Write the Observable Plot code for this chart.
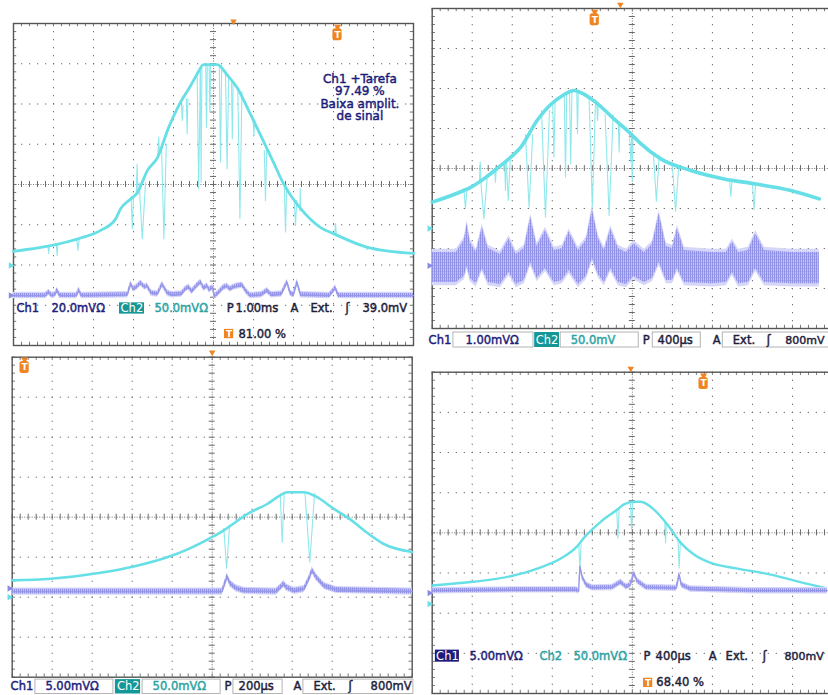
<!DOCTYPE html>
<html><head><meta charset="utf-8">
<script src="https://cdn.jsdelivr.net/npm/d3@7"></script>
<script src="https://cdn.jsdelivr.net/npm/@observablehq/plot@0.6"></script>
<style>
html,body{margin:0;padding:0;background:#fff;}
#wrap{position:relative;width:828px;height:695px;overflow:hidden;background:#fff;}
#wrap svg{position:absolute;max-width:none !important;}
</style></head><body><div id="wrap"></div>
<script>
// ---------- DATA (x, y in screen divisions; x 0..10, y -4..4) ----------
// Panel 1 (top-left)
const p1Envelope = [[0,-1.66],[0.93,-1.52],[1.68,-1.33],[2.18,-1.14],[2.55,-0.86],[2.68,-0.6],[2.93,-0.36],[3.1,-0.2],[3.35,0.35],[3.6,0.67],[3.88,1.42],[4.13,1.96],[4.43,2.46],[4.6,2.76],[4.75,2.98],[5.1,2.98],[5.35,2.71],[5.6,2.39],[5.85,1.9],[6.18,1.22],[6.5,0.55],[6.75,0.02],[7.18,-0.6],[7.68,-1.07],[8.0,-1.22],[8.85,-1.56],[10,-1.71]];
// spikes: [x, base, tip, half-width]
const p1Spikes = [[0.88,-1.52,-1.71,0.02],[1.09,-1.47,-1.76,0.02],[1.61,-1.35,-1.64,0.03],[2.97,-0.3,-1.1,0.03],[3.09,-0.25,0.51,0.02],[3.22,0.05,-1.35,0.08],[3.63,0.75,1.18,0.02],[3.76,1.0,-1.35,0.06],[4.22,1.96,1.59,0.02],[4.34,2.13,1.26,0.02],[4.63,2.8,-0.11,0.04],[4.69,2.9,0.06,0.02],[4.825,2.98,1.42,0.02],[4.91,2.98,1.8,0.02],[5.175,2.95,0.56,0.03],[5.34,2.73,0.39,0.04],[5.47,2.55,1.14,0.02],[5.66,2.3,-0.85,0.05],[6.01,1.6,1.22,0.02],[6.3,0.85,-0.4,0.03],[6.8,-0.05,-1.18,0.03],[7.05,-0.4,-1.02,0.03],[7.17,-0.65,-0.1,0.01],[8.05,-1.23,-0.97,0.02],[8.84,-1.55,-1.62,0.02]];
const p1Ch2 = [[0,-2.76],[0.8,-2.76],[0.88,-2.68],[0.96,-2.76],[1.04,-2.74],[1.09,-2.63],[1.16,-2.76],[1.58,-2.76],[1.63,-2.62],[1.7,-2.76],[2.85,-2.74],[2.93,-2.47],[3.0,-2.6],[3.08,-2.55],[3.18,-2.45],[3.28,-2.55],[3.34,-2.52],[3.45,-2.7],[3.6,-2.72],[3.72,-2.48],[3.85,-2.7],[3.97,-2.74],[4.2,-2.72],[4.3,-2.6],[4.38,-2.55],[4.46,-2.66],[4.6,-2.5],[4.68,-2.43],[4.76,-2.58],[4.84,-2.52],[4.9,-2.62],[4.98,-2.55],[5.02,-2.78],[5.12,-2.7],[5.25,-2.56],[5.34,-2.53],[5.42,-2.6],[5.5,-2.55],[5.6,-2.52],[5.72,-2.5],[5.82,-2.66],[5.92,-2.76],[6.2,-2.74],[6.34,-2.64],[6.45,-2.74],[6.7,-2.72],[6.84,-2.43],[6.92,-2.7],[7.0,-2.74],[7.09,-2.43],[7.18,-2.74],[7.9,-2.76],[8.05,-2.57],[8.12,-2.76],[10,-2.76]];
const p1Noise = 0.05;
const p1Note = ["Ch1 +Tarefa","97.49 %","Baixa amplit.","de sinal"];

// Panel 2 (top-right)
const p2Envelope = [[0,-0.84],[0.79,-0.55],[0.96,-0.47],[1.29,-0.26],[1.62,0.0],[1.96,0.28],[2.21,0.53],[2.62,1.2],[2.96,1.6],[3.25,1.82],[3.54,1.95],[3.75,1.88],[4.08,1.66],[4.54,1.24],[4.96,0.87],[5.21,0.62],[5.71,0.24],[6.46,-0.05],[7.29,-0.26],[8.04,-0.38],[8.96,-0.55],[9.67,-0.76]];
const p2Spikes = [[0.83,-0.5,-1.0,0.04],[1.2,-0.35,0.16,0.02],[1.29,-0.26,-1.26,0.08],[1.58,-0.03,-0.34,0.02],[1.83,0.17,-0.55,0.02],[1.9,0.22,-0.8,0.05],[2.42,0.85,-0.97,0.09],[2.83,1.45,-1.22,0.1],[3.04,1.65,0.28,0.03],[3.33,1.85,-0.22,0.03],[3.46,1.92,0.12,0.03],[3.63,1.93,0.87,0.02],[4.0,1.72,-0.97,0.08],[4.13,1.62,1.2,0.02],[4.42,1.35,-1.18,0.1],[4.67,1.12,0.41,0.02],[4.96,0.87,0.16,0.03],[5.0,0.84,-0.3,0.02],[5.6,0.32,-0.82,0.07],[6.08,0.08,-1.07,0.08],[7.46,-0.29,-0.7,0.03],[8.04,-0.38,-1.03,0.04]];
// [x, upper edge, lower edge] of the noisy band
const p2Ch2 = [[0,-2.1,-2.85],[0.6,-2.1,-2.85],[0.8,-1.8,-2.7],[0.875,-1.38,-2.45],[0.95,-1.85,-2.75],[1.1,-2.1,-2.88],[1.25,-1.47,-2.5],[1.4,-2.0,-2.85],[1.7,-2.15,-2.9],[1.92,-1.76,-2.6],[2.1,-2.15,-2.9],[2.3,-2.0,-2.8],[2.46,-1.22,-2.35],[2.62,-1.95,-2.75],[2.83,-1.55,-2.5],[3.05,-2.05,-2.85],[3.25,-2.0,-2.8],[3.42,-1.59,-2.55],[3.65,-2.05,-2.9],[3.85,-1.8,-2.7],[4.0,-1.01,-2.25],[4.15,-1.75,-2.65],[4.3,-2.05,-2.85],[4.46,-1.51,-2.5],[4.65,-2.0,-2.85],[4.85,-2.1,-2.9],[5.04,-1.88,-2.7],[5.3,-2.1,-2.85],[5.5,-1.9,-2.75],[5.67,-1.13,-2.35],[5.85,-1.95,-2.8],[6.0,-2.0,-2.8],[6.125,-1.5,-2.5],[6.3,-2.05,-2.85],[7.0,-2.1,-2.88],[7.35,-2.1,-2.85],[7.5,-1.84,-2.6],[7.65,-2.1,-2.88],[7.9,-2.05,-2.85],[8.08,-1.63,-2.5],[8.3,-2.05,-2.85],[9.0,-2.1,-2.88],[9.67,-2.1,-2.88]];

// Panel 3 (bottom-left)
const p3Envelope = [[0,-1.58],[0.96,-1.54],[2.21,-1.39],[3.04,-1.23],[3.875,-1.0],[4.375,-0.81],[5.04,-0.475],[5.29,-0.33],[5.46,-0.21],[5.96,0.125],[6.375,0.33],[6.69,0.54],[6.875,0.625],[7.29,0.625],[7.58,0.525],[8.04,0.21],[8.46,-0.06],[8.875,-0.39],[9.29,-0.67],[10,-0.87]];
const p3Spikes = [[5.36,-0.28,-1.275,0.07],[6.75,0.58,-0.625,0.05],[7.44,0.6,-1.125,0.12]];
const p3Ch2 = [[0,-1.86],[5.25,-1.86],[5.33,-1.62],[5.375,-1.48],[5.45,-1.66],[5.6,-1.78],[5.8,-1.84],[6.6,-1.86],[6.72,-1.75],[6.79,-1.67],[6.86,-1.76],[7.05,-1.84],[7.3,-1.8],[7.42,-1.55],[7.5,-1.33],[7.6,-1.5],[7.8,-1.72],[8.1,-1.82],[10,-1.86]];
const p3Noise = 0.06;

// Panel 4 (bottom-right)
const p4Envelope = [[0,-1.31],[0.96,-1.225],[1.96,-1.08],[2.625,-0.89],[3.21,-0.64],[3.625,-0.33],[3.79,-0.125],[4.21,0.275],[4.625,0.58],[4.79,0.71],[5.04,0.775],[5.21,0.775],[5.54,0.58],[5.875,0.21],[6.21,-0.25],[6.54,-0.54],[6.96,-0.75],[7.625,-0.89],[8.46,-1.04],[9.29,-1.25],[9.83,-1.375]];
const p4Spikes = [[3.69,-0.29,-0.875,0.03],[4.64,0.58,-0.125,0.03],[4.98,0.77,0.1,0.03],[5.83,0.25,-0.25,0.02],[6.17,-0.2,-0.875,0.03]];
const p4Ch2 = [[0,-1.44],[2.0,-1.42],[3.6,-1.42],[3.66,-1.45],[3.69,-0.83],[3.75,-1.1],[3.85,-1.3],[4.0,-1.37],[4.5,-1.36],[4.71,-1.23],[4.85,-1.35],[4.95,-1.3],[5.04,-1.0],[5.12,-1.2],[5.35,-1.36],[6.1,-1.38],[6.17,-1.04],[6.23,-1.3],[6.45,-1.4],[8,-1.44],[9.87,-1.44]];
const p4Noise = 0.05;

// status-line texts
const ch1Scale  = ["20.0mVΩ","1.00mVΩ","5.00mVΩ","5.00mVΩ"];
const ch2Scale  = ["50.0mVΩ","50.0mV","50.0mVΩ","50.0mVΩ"];
const timeBase  = ["1.00ms","400µs","200µs","400µs"];
const trigLevel = ["39.0mV","800mV","800mV","800mV"];
const trigPos   = ["81.00 %", null, null, "68.40 %"];

// ---------- STYLE ----------
const CYAN="#66dfe6", CYAN_T="#90e8ed", NAVY="#1c1c7a", TEAL="#2aa3a3", TEALBOX="#169797", DARK="#1e1e3c", ORANGE="#ef8420", BLUE="#9898ea", BANDKEY="#a5a5ef", FRINGE="#d6d6f8";

function gridMarks(){
  const mx = d3.range(0, 10.0001, 0.2), my = d3.range(-4, 4.0001, 0.2);
  return [
    Plot.ruleX([1,2,3,4,6,7,8,9], {stroke:"#6e6e6e", strokeDasharray:"1.3,6.7"}),
    Plot.ruleY([-3,-2,-1,1,2,3], {stroke:"#6e6e6e", strokeDasharray:"1.3,6.7"}),
    Plot.ruleX([5], {stroke:"#777", strokeDasharray:"1,1.5"}),
    Plot.ruleY([0], {stroke:"#777", strokeDasharray:"1,1.5"}),
    Plot.ruleX(mx, {y1:-0.075, y2:0.075, stroke:"#6a6a6a"}),
    Plot.ruleY(my, {x1:4.925, x2:5.075, stroke:"#6a6a6a"}),
    Plot.ruleX(mx, {y1:3.92, y2:4, stroke:"#777"}),
    Plot.ruleX(mx, {y1:-4, y2:-3.92, stroke:"#777"}),
    Plot.ruleY(my, {x1:0, x2:0.08, stroke:"#777"}),
    Plot.ruleY(my, {x1:9.92, x2:10, stroke:"#777"}),
    Plot.frame({stroke:"#555", strokeWidth:1.4})
  ];
}
function spikeRows(sp){ return sp.flatMap(([x,b,t,w],i)=>[{x:x-w,y:b,i},{x:x,y:t,i},{x:x+w,y:b,i}]); }
function traceMarks(env, spikes, envW){
  return [
    Plot.line(spikeRows(spikes), {x:"x", y:"y", z:"i", stroke:CYAN_T, strokeWidth:1.1}),
    Plot.line(env, {x:d=>d[0], y:d=>d[1], stroke:CYAN, strokeWidth:envW, curve:"monotone-x"})
  ];
}
function bandMarks(rows, withLine, fringe){
  const m = [];
  if (fringe) m.push(Plot.areaY(rows, {x:"x", y1:d=>d.lo-fringe, y2:d=>d.hi+fringe, fill:FRINGE}));
  m.push(Plot.areaY(rows, {x:"x", y1:"lo", y2:"hi", fill:BANDKEY}));
  if (withLine) m.push(Plot.line(rows, {x:"x", y:"y", stroke:BLUE, strokeWidth:1.3}));
  return m;
}
function txt(s, x, y, fill, o={}){
  return Plot.text([s], {x, y, text:d=>d, fill, textAnchor:"start", fontSize:11.5, stroke:fill, strokeWidth:0.45, ...o});
}
function box(x1, x2, y1, y2, fill, stroke){
  return Plot.rect([0], {x1, x2, y1, y2, fill, stroke: stroke || "none", strokeWidth:1});
}
function tMarker(x, y){
  return [
    Plot.dot([0], {x, y:y+0.2, symbol:"triangle", rotate:180, r:2.6, fill:ORANGE}),
    Plot.rect([0], {x1:x-0.115, x2:x+0.115, y1:y-0.15, y2:y+0.15, rx:2.5, fill:ORANGE}),
    Plot.text(["T"], {x, y, text:d=>d, fill:"white", fontSize:9, fontWeight:"bold"})
  ];
}
function tBox(x, y){
  return [
    Plot.rect([0], {x1:x, x2:x+0.23, y1:y-0.115, y2:y+0.115, fill:ORANGE}),
    Plot.text(["T"], {x:x+0.115, y, text:d=>d, fill:"white", fontSize:9, fontWeight:"bold"})
  ];
}
function topMark(x, y){ return Plot.dot([0], {x, y, symbol:"triangle", rotate:180, r:2.4, fill:ORANGE}); }
function chMark(y, fill){ return Plot.dot([0], {x:-0.07, y, symbol:"triangle", rotate:90, r:2.4, fill}); }

function makePanel(k, pos, marks){
  const svg = Plot.plot({
    width: pos.w, height: pos.h,
    marginLeft: pos.ml, marginRight: pos.mr, marginTop: pos.mt, marginBottom: pos.mb,
    x:{domain:[0,10], axis:null}, y:{domain:[-4,4], axis:null},
    style:{fontFamily:"'DejaVu Sans', sans-serif", background:"transparent", overflow:"visible"},
    marks
  });
  const s = d3.select(svg);
  s.insert("defs", ":first-child").html(
    `<pattern id="noise${k}" width="2" height="3" patternUnits="userSpaceOnUse">
       <rect width="2" height="3" fill="#c2c2f5"/>
       <rect x="0" width="1" height="3" fill="#9292e6"/>
       <rect x="1" y="1" width="1" height="1" fill="#a9a9ef"/>
     </pattern>`);
  s.selectAll(`g[fill="${BANDKEY}"]`).attr("fill", `url(#noise${k})`);
  s.style("left", pos.left+"px").style("top", pos.top+"px");
  document.getElementById("wrap").appendChild(svg);
}

const toRows = (tr, n) => tr.map(([x,y]) => ({x, y, hi:y+n, lo:y-n}));

// ---------- PANEL 1 ----------
{
  const Y = -3.08;
  makePanel(1, {left:0, top:0, w:420, h:350, ml:13, mr:7, mt:23, mb:5}, [
    ...gridMarks(),
    ...traceMarks(p1Envelope, p1Spikes, 2.8),
    ...bandMarks(toRows(p1Ch2, p1Noise), true, 0.03),
    Plot.text([p1Note.join("\n")], {x:8.66, y:2.16, text:d=>d, fill:NAVY, fontSize:12, lineHeight:1.05, stroke:NAVY, strokeWidth:0.45}),
    txt("Ch1", 0.075, Y, NAVY), txt(ch1Scale[0], 0.95, Y, NAVY),
    box(2.65, 3.275, -2.94, -3.22, TEALBOX),
    txt("Ch2", 2.96, Y, "white", {textAnchor:"middle", stroke:"none"}),
    txt(ch2Scale[0], 3.525, Y, TEAL),
    txt("P", 5.33, Y, DARK), txt(timeBase[0], 5.55, Y, DARK),
    txt("A", 6.925, Y, DARK), txt("Ext.", 7.425, Y, DARK), txt("ʃ", 8.3, Y, DARK), txt(trigLevel[0], 8.725, Y, DARK),
    ...tBox(5.275, -3.715), txt(trigPos[0], 5.625, -3.71, DARK),
    ...tMarker(8.1, 3.72), topMark(5.5, 4.05),
    chMark(-2.01, CYAN), chMark(-2.76, "#8a8ae6")
  ]);
}
// ---------- PANEL 2 ----------
{
  const Y = -4.29, B1 = -4.1, B2 = -4.475;
  makePanel(2, {left:420, top:0, w:412, h:352, ml:11.7, mr:0, mt:8, mb:24}, [
    ...gridMarks(),
    ...traceMarks(p2Envelope, p2Spikes, 3.6),
    ...bandMarks(p2Ch2.map(([x,hi,lo]) => ({x, hi, lo, y:(hi+lo)/2})), false, 0.08),
    box(0.53, 2.53, B1, B2, "white", "#b4b4b4"),
    box(3.21, 5.16, B1, B2, "white", "#b4b4b4"),
    box(5.51, 6.71, B1, B2, "white", "#b4b4b4"),
    box(7.26, 10.3, B1, B2, "white", "#b4b4b4"),
    box(2.56, 3.18, B1, B2, TEALBOX),
    txt("Ch1", -0.09, Y, NAVY), txt(ch1Scale[1], 0.83, Y, NAVY),
    txt("Ch2", 2.87, Y, "white", {textAnchor:"middle", stroke:"none"}),
    txt(ch2Scale[1], 3.46, Y, TEAL),
    txt("P", 5.26, Y, DARK), txt(timeBase[1], 5.63, Y, DARK),
    txt("A", 7.01, Y, DARK), txt("Ext.", 7.51, Y, DARK), txt("ʃ", 8.36, Y, DARK),
    txt(trigLevel[1], 8.82, Y, DARK, {fontSize:11}),
    ...tMarker(4.06, 3.72), topMark(4.7, 4.1),
    chMark(-1.5, CYAN), chMark(-2.43, "#8a8ae6")
  ]);
}
// ---------- PANEL 3 ----------
{
  const Y = -4.23, B1 = -4.06, B2 = -4.42;
  makePanel(3, {left:0, top:350, w:420, h:345, ml:11.7, mr:8.3, mt:6.7, mb:18.3}, [
    ...gridMarks(),
    ...traceMarks(p3Envelope, p3Spikes, 2.6),
    ...bandMarks(toRows(p3Ch2, p3Noise), true, 0.03),
    box(0.58, 2.53, B1, B2, "white", "#b4b4b4"),
    box(3.26, 5.21, B1, B2, "white", "#b4b4b4"),
    box(5.53, 6.76, B1, B2, "white", "#b4b4b4"),
    box(7.28, 10.03, B1, B2, "white", "#b4b4b4"),
    box(2.58, 3.21, B1, B2, TEALBOX),
    txt("Ch1", -0.04, Y, NAVY), txt(ch1Scale[2], 0.83, Y, NAVY),
    txt("Ch2", 2.9, Y, "white", {textAnchor:"middle", stroke:"none"}),
    txt(ch2Scale[2], 3.51, Y, TEAL),
    txt("P", 5.31, Y, DARK), txt(timeBase[2], 5.66, Y, DARK),
    txt("A", 7.03, Y, DARK), txt("Ext.", 7.53, Y, DARK), txt("ʃ", 8.41, Y, DARK), txt(trigLevel[2], 8.96, Y, DARK),
    ...tMarker(0.31, 3.74), topMark(5.0, 4.12),
    chMark(-1.78, "#8a8ae6"), chMark(-2.0, CYAN)
  ]);
}
// ---------- PANEL 4 ----------
{
  const Y = -3.07;
  makePanel(4, {left:420, top:352, w:412, h:343, ml:11.7, mr:0, mt:19.7, mb:2}, [
    ...gridMarks(),
    ...traceMarks(p4Envelope, p4Spikes, 2.4),
    ...bandMarks(toRows(p4Ch2, p4Noise), true, 0.03),
    box(0.08, 0.68, -2.92, -3.22, NAVY),
    txt("Ch1", 0.38, Y, "white", {textAnchor:"middle", stroke:"none"}),
    txt(ch1Scale[3], 0.93, Y, NAVY),
    txt("Ch2", 2.68, Y, TEAL), txt(ch2Scale[3], 3.53, Y, TEAL),
    txt("P", 5.28, Y, DARK), txt(timeBase[3], 5.58, Y, DARK),
    txt("A", 6.91, Y, DARK), txt("Ext.", 7.33, Y, DARK), txt("ʃ", 8.26, Y, DARK),
    txt(trigLevel[3], 8.8, Y, DARK, {fontSize:11}),
    ...tBox(5.28, -3.735), txt(trigPos[3], 5.6, -3.72, DARK),
    ...tMarker(6.78, 3.72), topMark(4.96, 4.09),
    chMark(-1.5, "#8a8ae6"), chMark(-1.77, CYAN)
  ]);
}
</script></body></html>
